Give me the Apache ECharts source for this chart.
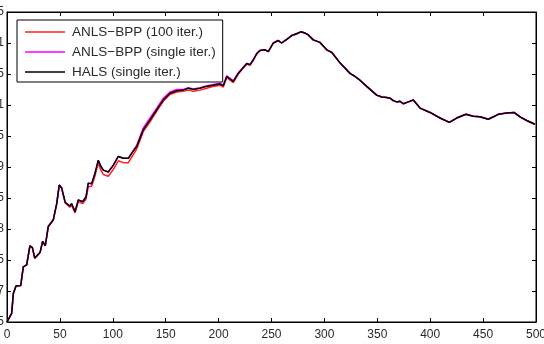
<!DOCTYPE html>
<html><head><meta charset="utf-8">
<script src="https://cdn.jsdelivr.net/npm/echarts@6/dist/echarts.min.js"></script>
<style>html,body{margin:0;padding:0;background:#fff}#c{width:544px;height:344px}</style>
</head><body><div id="c"></div>
<script>
const seriesNames = ['ANLS\u2212BPP (100 iter.)', 'ANLS\u2212BPP (single iter.)', 'HALS (single iter.)'];
const xTicks = [0, 50, 100, 150, 200, 250, 300, 350, 400, 450, 500];
const yTicks = [0.65, 0.7, 0.75, 0.8, 0.85, 0.9, 0.95, 1, 1.05, 1.1, 1.15];

// HALS (single iter.): [iteration, value]
const halsData = [
[0,0.650],[4.4,0.664],[6,0.696],[8.5,0.708],[13,0.709],[15.4,0.739],[18.6,0.742],[21.7,0.773],[24,0.770],
[26.2,0.753],[28,0.751],[31.2,0.762],[33.7,0.780],[36.2,0.773],[39,0.804],[43.8,0.815],[47,0.841],[49.4,0.871],
[51.7,0.866],[55,0.843],[59.5,0.837],[61,0.841],[64.3,0.828],[67.4,0.847],[71.6,0.844],[74.7,0.852],[76.8,0.874],
[80,0.873],[83.2,0.890],[86.3,0.911],[88.4,0.902],[91,0.895],[95.7,0.892],[100.5,0.903],[105.2,0.917],[110,0.914],
[114.7,0.914],[117.9,0.922],[122.6,0.933],[128.8,0.960],[135.2,0.976],[141.5,0.992],[147.7,1.008],[154,1.019],
[160.4,1.023],[166.6,1.024],[171.4,1.027],[176.1,1.025],[182.4,1.027],[188.8,1.030],[195,1.032],[201.3,1.034],
[204.4,1.031],[207.7,1.046],[213.9,1.038],[218.6,1.051],[226.6,1.067],[229.7,1.065],[232.8,1.073],[236,1.083],
[239.1,1.088],[243.9,1.089],[247,1.086],[251.7,1.100],[256.4,1.104],[259.6,1.100],[264.4,1.106],[269.1,1.112],
[273.8,1.115],[277.6,1.118],[281.7,1.116],[284.8,1.113],[289.5,1.105],[295.8,1.101],[302.2,1.089],[306.9,1.085],
[314.7,1.068],[324.2,1.051],[328.9,1.046],[333.6,1.040],[340,1.030],[349.4,1.016],[354.2,1.013],[358.9,1.012],
[362,1.011],[365.1,1.007],[368.3,1.005],[371.5,1.006],[374.6,1.002],[379.3,1.005],[384,1.008],[390.4,0.995],
[399.8,0.988],[409.3,0.979],[418.1,0.972],[425,0.979],[433.8,0.985],[440.7,0.982],[447.1,0.981],[454.9,0.977],
[464.4,0.985],[472.3,0.987],[479.2,0.988],[484.9,0.981],[491.2,0.975],[499,0.969]
];

// ANLS-BPP (100 iter.)
const anls100Data = [
[0,0.650],[4.4,0.664],[6,0.696],[8.5,0.708],[13,0.709],[15.4,0.739],[18.6,0.742],[21.7,0.773],[24,0.770],
[26.2,0.753],[28,0.751],[31.2,0.762],[33.7,0.780],[36.2,0.773],[39,0.804],[43.8,0.815],[47,0.841],[49.4,0.871],
[51.7,0.866],[55,0.842],[59.5,0.835],[61,0.839],[64.3,0.826],[67.4,0.844],[71.6,0.841],[74.7,0.848],[76.8,0.868],
[80,0.869],[83.2,0.886],[86.3,0.907],[88.4,0.896],[91,0.888],[95.7,0.885],[100.5,0.896],[105.2,0.910],[110,0.907],
[114.7,0.907],[117.9,0.916],[122.6,0.929],[128.8,0.957],[135.2,0.973],[141.5,0.990],[147.7,1.006],[154,1.017],
[160.4,1.021],[166.6,1.022],[171.4,1.024],[176.1,1.022],[182.4,1.024],[188.8,1.027],[195,1.030],[201.3,1.032],
[204.4,1.029],[207.7,1.044],[213.9,1.036],[218.6,1.050],[226.6,1.066],[229.7,1.064],[232.8,1.072],[236,1.082],
[239.1,1.088],[243.9,1.089],[247,1.086],[251.7,1.100],[256.4,1.104],[259.6,1.100],[264.4,1.106],[269.1,1.112],
[273.8,1.115],[277.6,1.118],[281.7,1.116],[284.8,1.113],[289.5,1.105],[295.8,1.101],[302.2,1.089],[306.9,1.085],
[314.7,1.068],[324.2,1.051],[328.9,1.046],[333.6,1.040],[340,1.030],[349.4,1.016],[354.2,1.013],[358.9,1.012],
[362,1.011],[365.1,1.007],[368.3,1.005],[371.5,1.006],[374.6,1.002],[379.3,1.005],[384,1.008],[390.4,0.995],
[399.8,0.988],[409.3,0.979],[418.1,0.972],[425,0.979],[433.8,0.985],[440.7,0.982],[447.1,0.981],[454.9,0.977],
[464.4,0.985],[472.3,0.987],[479.2,0.988],[484.9,0.981],[491.2,0.975],[499,0.969]
];

// ANLS-BPP (single iter.)
const anlsSingleData = [
[0,0.650],[4.4,0.664],[6,0.696],[8.5,0.708],[13,0.709],[15.4,0.739],[18.6,0.742],[21.7,0.773],[24,0.770],
[26.2,0.753],[28,0.751],[31.2,0.762],[33.7,0.780],[36.2,0.773],[39,0.804],[43.8,0.815],[47,0.841],[49.4,0.871],
[51.7,0.866],[55,0.843],[59.5,0.837],[61,0.841],[64.3,0.828],[67.4,0.847],[71.6,0.844],[74.7,0.852],[76.8,0.874],
[80,0.873],[83.2,0.890],[86.3,0.911],[88.4,0.902],[91,0.895],[95.7,0.892],[100.5,0.903],[105.2,0.917],[110,0.914],
[114.7,0.914],[117.9,0.923],[122.6,0.935],[128.8,0.963],[135.2,0.979],[141.5,0.995],[147.7,1.011],[154,1.021],
[160.4,1.025],[166.6,1.025],[171.4,1.028],[176.1,1.026],[182.4,1.028],[188.8,1.031],[195,1.033],[201.3,1.035],
[204.4,1.032],[207.7,1.047],[213.9,1.039],[218.6,1.052],[226.6,1.067],[229.7,1.065],[232.8,1.073],[236,1.083],
[239.1,1.088],[243.9,1.089],[247,1.086],[251.7,1.100],[256.4,1.104],[259.6,1.100],[264.4,1.106],[269.1,1.112],
[273.8,1.115],[277.6,1.118],[281.7,1.116],[284.8,1.113],[289.5,1.105],[295.8,1.101],[302.2,1.089],[306.9,1.085],
[314.7,1.068],[324.2,1.051],[328.9,1.046],[333.6,1.040],[340,1.030],[349.4,1.016],[354.2,1.013],[358.9,1.012],
[362,1.011],[365.1,1.007],[368.3,1.005],[371.5,1.006],[374.6,1.002],[379.3,1.005],[384,1.008],[390.4,0.995],
[399.8,0.988],[409.3,0.979],[418.1,0.972],[425,0.979],[433.8,0.985],[440.7,0.982],[447.1,0.981],[454.9,0.977],
[464.4,0.985],[472.3,0.987],[479.2,0.988],[484.9,0.981],[491.2,0.975],[499,0.969]
];

const colors = ['#ff2020', '#ff00ff', '#000000'];
const font = 'Liberation Sans, Arial, sans-serif';

const chart = echarts.init(document.getElementById('c'), null, {renderer: 'canvas'});
const axisCommon = {
  axisLine: {show: true, onZero: false, lineStyle: {color: '#000', width: 1}},
  axisTick: {show: true, inside: true, length: 4, lineStyle: {color: '#000'}},
  splitLine: {show: false}
};
chart.setOption({
  animation: false,
  backgroundColor: '#fff',
  grid: {left: 7, right: 8, top: 12, bottom: 22, containLabel: false, outerBoundsMode: 'none',
    show: true, borderColor: '#000', borderWidth: 1},
  legend: {
    orient: 'vertical', left: 17, top: 20,
    data: seriesNames,
    icon: 'rect',
    itemWidth: 40, itemHeight: 1.5, itemGap: 6,
    padding: [5, 7, 3, 8],
    borderColor: '#000', borderWidth: 1, backgroundColor: '#fff',
    textStyle: {fontFamily: font, fontSize: 13.5, lineHeight: 14, color: '#2a2a2a', padding: [0, 0, 0, 2]}
  },
  xAxis: [
    Object.assign({type: 'value', position: 'bottom', min: xTicks[0], max: xTicks[xTicks.length-1], interval: 50,
      axisLabel: {fontFamily: font, fontSize: 12, color: '#2a2a2a', margin: 7, showMaxLabel: true}}, axisCommon),
    Object.assign({type: 'value', position: 'top', min: xTicks[0], max: xTicks[xTicks.length-1], interval: 50,
      axisLabel: {show: false}}, axisCommon)
  ],
  yAxis: [
    Object.assign({type: 'value', position: 'left', min: yTicks[0], max: yTicks[yTicks.length-1], interval: 0.05,
      axisLabel: {fontFamily: font, fontSize: 12, color: '#2a2a2a', margin: 3,
        formatter: v => String(Math.round(v*100)/100)}}, axisCommon),
    Object.assign({type: 'value', position: 'right', min: yTicks[0], max: yTicks[yTicks.length-1], interval: 0.05,
      axisLabel: {show: false}}, axisCommon)
  ],
  series: [
    {name: seriesNames[0], type: 'line', data: anls100Data, symbol: 'none', color: colors[0], lineStyle: {width: 1.5, color: colors[0]}, z: 2},
    {name: seriesNames[1], type: 'line', data: anlsSingleData, symbol: 'none', color: colors[1], lineStyle: {width: 1.5, color: colors[1]}, z: 3},
    {name: seriesNames[2], type: 'line', data: halsData, symbol: 'none', color: colors[2], lineStyle: {width: 1.5, color: colors[2]}, z: 4}
  ]
});
</script></body></html>
